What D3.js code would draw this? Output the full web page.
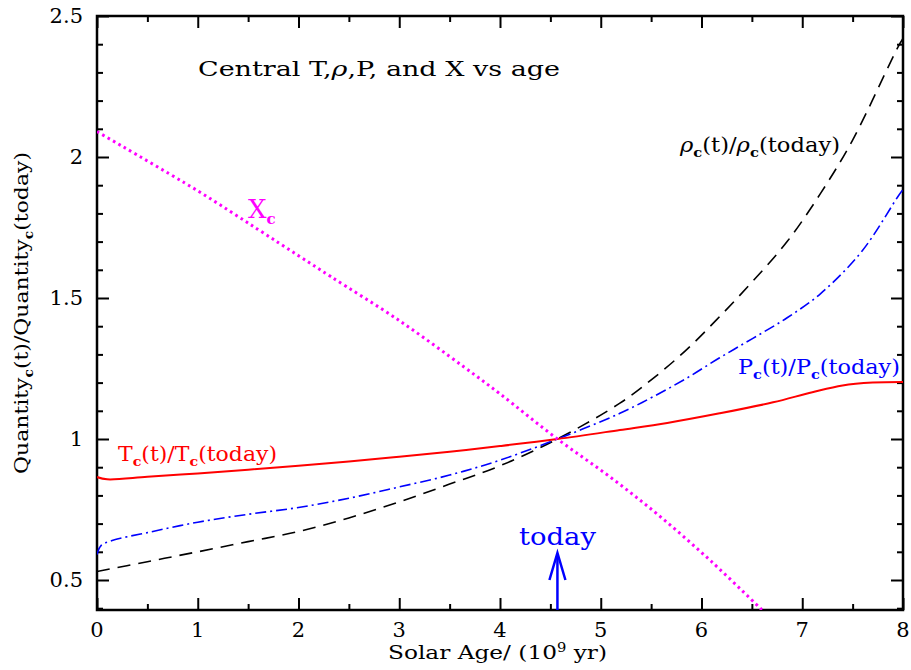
<!DOCTYPE html>
<html><head><meta charset="utf-8">
<script src="https://cdn.jsdelivr.net/npm/d3@7"></script>
<style>body{margin:0;background:#fff}svg{display:block}text{font-family:"DejaVu Serif",serif}</style>
</head><body><svg id="c" width="911" height="670"></svg>
<script>
// ---- data ----
const xTicks = [0,1,2,3,4,5,6,7,8];
const yTicks = [0.5,1,1.5,2,2.5];
const yTickLabels = ["0.5","1","1.5","2","2.5"];

const tAges = [0,0.1,0.5,1,1.5,2,2.5,3,3.5,4,4.57,5.19,5.66,6.18,6.71,7.1,7.4,7.7,8];
const tVals = [0.865,0.857,0.866,0.878,0.891,0.905,0.92,0.937,0.955,0.975,1.0,1.032,1.057,1.091,1.13,1.166,1.19,1.2,1.202];

const pAges = [0,0.04,0.15,0.5,1,1.5,2,2.5,3,3.5,4,4.57,5.19,5.52,5.85,6.18,6.51,6.85,7.18,7.59,7.95,8];
const pVals = [0.59,0.622,0.64,0.668,0.705,0.733,0.757,0.79,0.83,0.872,0.925,1.0,1.091,1.15,1.215,1.288,1.357,1.43,1.515,1.665,1.86,1.885];

const rAges = [0,0.5,1,1.5,2,2.5,3,3.5,4,4.57,5.19,5.52,5.85,6.18,6.51,6.85,7.18,7.5,7.95,8];
const rVals = [0.53,0.565,0.6,0.636,0.672,0.72,0.777,0.84,0.905,1.0,1.127,1.215,1.316,1.434,1.56,1.70,1.87,2.06,2.39,2.42];

const xAges = [0,1,1.59,2,2.32,3,3.64,4,4.57,5.09,5.59,6.1,6.6];
const xVals = [2.09,1.88,1.745,1.65,1.576,1.42,1.256,1.16,1.0,0.866,0.725,0.565,0.394];

const todayAge = 4.57;

// ---- scales ----
const svg = d3.select("#c");
const L=97,R=903,T=16,B=610;
const x = d3.scaleLinear().domain([0,8]).range([L,R]);
const y = d3.scaleLinear().domain([0.5,2.5]).range([580,16]);
const yMin = y.invert(B);

svg.append("defs").append("clipPath").attr("id","clip")
  .append("rect").attr("x",L).attr("y",T).attr("width",R-L).attr("height",B-T);

// ---- axes ----
const xMinor = d3.range(0,8.001,0.5).filter(v=>Math.abs(v-Math.round(v))>0.01);
const yMinor = d3.range(0.4,2.501,0.1).map(v=>+v.toFixed(1)).filter(v=>v>=yMin && Math.abs(v*2-Math.round(v*2))>0.01);

function ax(gen, tv, size, tx, ty){
  const g = svg.append("g").attr("transform",`translate(${tx},${ty})`)
    .call(gen.tickValues(tv).tickSize(size).tickFormat(""));
  g.select(".domain").remove();
  g.selectAll("line").attr("stroke","#000").attr("stroke-width",2);
  return g;
}
ax(d3.axisBottom(x), xTicks, -12, 0, B);
ax(d3.axisBottom(x), xMinor, -6, 0, B);
ax(d3.axisTop(x), xTicks, -12, 0, T);
ax(d3.axisTop(x), xMinor, -6, 0, T);
ax(d3.axisLeft(y), yTicks, -12, L, 0);
ax(d3.axisLeft(y), yMinor, -6, L, 0);
ax(d3.axisRight(y), yTicks, -12, R, 0);
ax(d3.axisRight(y), yMinor, -6, R, 0);

svg.append("rect").attr("x",L).attr("y",T).attr("width",R-L).attr("height",B-T)
  .attr("fill","none").attr("stroke","#000").attr("stroke-width",2.5);

svg.append("g").selectAll("text").data(xTicks).join("text")
  .attr("x",d=>x(d)).attr("y",637).attr("text-anchor","middle")
  .attr("font-size",21).attr("fill","#000").text(d=>d);
svg.append("g").selectAll("text").data(yTicks).join("text")
  .attr("x",83).attr("y",d=>y(d)+7).attr("text-anchor","end")
  .attr("font-size",21).attr("fill","#000").text((d,i)=>yTickLabels[i]);

// ---- lines ----
const line = (ag,vs)=>d3.line().curve(d3.curveCatmullRom.alpha(0.5)).x(d=>x(ag[d])).y(d=>y(vs[d]))(d3.range(ag.length));
const plot = svg.append("g").attr("clip-path","url(#clip)");
plot.append("path").attr("d",line(rAges,rVals)).attr("fill","none").attr("stroke","#000")
  .attr("stroke-width",1.6).attr("stroke-dasharray","13,8");
plot.append("path").attr("d",line(pAges,pVals)).attr("fill","none").attr("stroke","#0000ff")
  .attr("stroke-width",1.6).attr("stroke-dasharray","11,4,2,4");
plot.append("path").attr("d",line(tAges,tVals)).attr("fill","none").attr("stroke","#ff0000")
  .attr("stroke-width",2);
plot.append("path").attr("d",line(xAges,xVals)).attr("fill","none").attr("stroke","#ff00ff")
  .attr("stroke-width",3).attr("stroke-dasharray","2.6,3.6");

// ---- labels ----
function rich(parent, parts, attrs){
  const t = parent.append("text");
  Object.entries(attrs).forEach(([k,v])=>t.attr(k,v));
  parts.forEach(p=>{
    const s = t.append("tspan").text(p.t);
    if(p.sub){ s.attr("dy",p.dy||5).attr("font-size",p.fs||13).attr("font-weight","bold"); }
    if(p.back){ s.attr("dy",p.back); }
    if(p.it){ s.attr("font-style","italic"); }
  });
  return t;
}
const title = svg.append("text").attr("x",198).attr("y",76).attr("font-size",21)
  .attr("textLength",362).attr("lengthAdjust","spacingAndGlyphs");
title.append("tspan").text("Central T,");
title.append("tspan").attr("font-style","italic").text("ρ");
title.append("tspan").text(",P, and X vs age");

rich(svg,[{t:"X"},{t:"c",sub:1,dy:6,fs:15}],{x:248,y:218,"font-size":26,fill:"#ff00ff"});

rich(svg,[{t:"T"},{t:"c",sub:1},{t:"(t)/T",back:-5},{t:"c",sub:1},{t:"(today)",back:-5}],
  {x:118,y:461,"font-size":20,fill:"#ff0000",textLength:159,lengthAdjust:"spacingAndGlyphs"});
rich(svg,[{t:"ρ",it:1},{t:"c",sub:1},{t:"(t)/",back:-5},{t:"ρ",it:1},{t:"c",sub:1},{t:"(today)",back:-5}],
  {x:680,y:152,"font-size":20,fill:"#000",textLength:160,lengthAdjust:"spacingAndGlyphs"});
rich(svg,[{t:"P"},{t:"c",sub:1},{t:"(t)/P",back:-5},{t:"c",sub:1},{t:"(today)",back:-5}],
  {x:738,y:374,"font-size":20,fill:"#0000ff",textLength:162,lengthAdjust:"spacingAndGlyphs"});

svg.append("text").attr("x",x(todayAge)).attr("y",545).attr("text-anchor","middle")
  .attr("font-size",24).attr("fill","#0000ff").attr("textLength",77).attr("lengthAdjust","spacingAndGlyphs").text("today");
const ax0 = x(todayAge);
svg.append("line").attr("x1",ax0).attr("x2",ax0).attr("y1",B).attr("y2",554)
  .attr("stroke","#0000ff").attr("stroke-width",2.5);
svg.append("path").attr("d",`M${ax0-8},${580}L${ax0},${553}L${ax0+8},${580}`)
  .attr("fill","none").attr("stroke","#0000ff").attr("stroke-width",2.5);

// axis titles
const xl = svg.append("text").attr("x",388).attr("y",659).attr("font-size",19)
  .attr("textLength",219).attr("lengthAdjust","spacingAndGlyphs");
xl.append("tspan").text("Solar Age/ (10");
xl.append("tspan").attr("dy",-7).attr("font-size",12).text("9");
xl.append("tspan").attr("dy",7).text(" yr)");

rich(svg,[{t:"Quantity"},{t:"c",sub:1,fs:12},{t:"(t)/Quantity",back:-5},{t:"c",sub:1,fs:12},{t:"(today)",back:-5}],
  {x:0,y:0,"font-size":19,fill:"#000","text-anchor":"middle",transform:"translate(28,313) rotate(-90)",
   textLength:322,lengthAdjust:"spacingAndGlyphs"});
</script></body></html>
